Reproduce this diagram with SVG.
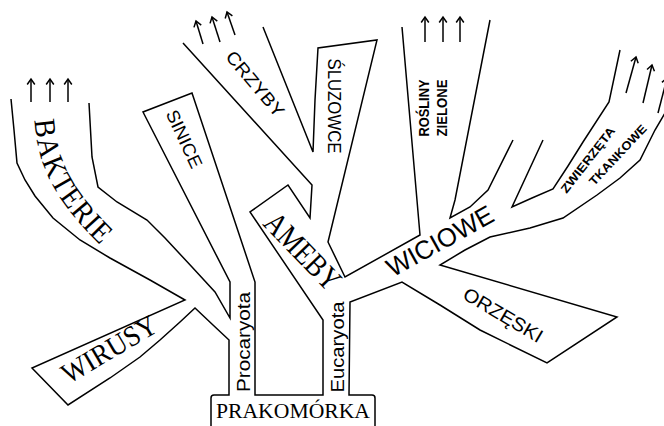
<svg xmlns="http://www.w3.org/2000/svg" width="664" height="426" viewBox="0 0 664 426">
<style>
.ol{fill:none;stroke:#000;stroke-width:1.5;stroke-linejoin:miter}
.ar{fill:none;stroke:#000;stroke-width:1.5;marker-end:url(#ah)}
.r{font-family:"Liberation Serif","Times New Roman",serif;fill:#000;text-anchor:middle;dominant-baseline:central}
.s{font-family:"Liberation Sans",Arial,sans-serif;fill:#000;text-anchor:middle;dominant-baseline:central}
.b{font-family:"Liberation Sans",Arial,sans-serif;font-weight:bold;fill:#000;text-anchor:middle;dominant-baseline:central}
</style>
<defs>
<marker id="ah" markerUnits="userSpaceOnUse" markerWidth="12" markerHeight="12" refX="0" refY="0" viewBox="-7 -6 8 12" orient="auto">
<path d="M-5.5,-3.8 L0,0 L-5.5,3.8" fill="none" stroke="#000" stroke-width="1.5"/>
</marker>
<path id="bakPath" d="M45,112 C47,160 61,192 113,242"/>
</defs>
<rect width="664" height="426" fill="#fff"/>
<g id="outline">
<path class="ol" d="M11,99 L14,130 L17,163 L25,180 L35,196 L53,218 L80,240 L110,258 L150,280 L185,300 L32,368 L68,405 L110,378 L140,357 L160,340 L180,322 L195,308 L213,325 L229,340 L229,395 L214,395 Q211,395 211,398 L211,426"/>
<path class="ol" d="M89,103 L92,157 L98,187 L117,202 L147,220 L165,238 L192,267 L215,292 L230,318 L230,282 L143,112 L192,93 L255,282 L255,395 L323,395 L323,320 L250,212 L288,185 L310,218 L312,185 L183,43"/>
<path class="ol" d="M263,27 L313,152 L315,100 L318,48 L377,40 L328,242 L345,277 L420,235 L402,27"/>
<path class="ol" d="M490,20 L455,200 L450,218 L470,207 L488,190 L513,140"/>
<path class="ol" d="M543,140 L512,207 L532,198 L553,189 L568,166 L583,142 L609,102 L620,50"/>
<path class="ol" d="M668,108 L655,130 L640,160 L620,178 L597,195 L563,218 L530,228 L490,237 L465,250 L440,265 L617,317 L547,363 L480,330 L440,305 L402,282 L350,302 L349,395 L372,395 Q375,395 375,398 L375,426"/>
</g>
<g id="arrows">
<line class="ar" x1="31" y1="102" x2="31" y2="79"/>
<line class="ar" x1="50" y1="102" x2="50" y2="79"/>
<line class="ar" x1="68" y1="102" x2="68" y2="79"/>
<line class="ar" x1="203" y1="44" x2="196" y2="21"/>
<line class="ar" x1="220" y1="42" x2="212" y2="17"/>
<line class="ar" x1="235" y1="35" x2="227" y2="12"/>
<line class="ar" x1="425" y1="42" x2="425" y2="17"/>
<line class="ar" x1="443" y1="42" x2="443" y2="17"/>
<line class="ar" x1="460" y1="42" x2="460" y2="17"/>
<line class="ar" x1="626" y1="93" x2="636" y2="57"/>
<line class="ar" x1="643" y1="103" x2="652" y2="65"/>
<line class="ar" x1="658" y1="113" x2="667" y2="78"/>
</g>
<g id="bakterie"><text class="r" font-size="30"><textPath href="#bakPath" startOffset="50%" textLength="138" lengthAdjust="spacingAndGlyphs">BAKTERIE</textPath></text></g>
<g id="wirusy"><text class="r" font-size="29" textLength="106" lengthAdjust="spacingAndGlyphs" transform="translate(109,349) rotate(-30.6)">WIRUSY</text></g>
<g id="sinice"><text class="s" font-size="18" textLength="62" lengthAdjust="spacingAndGlyphs" transform="translate(184,139) rotate(65)">SINICE</text></g>
<g id="crzyby"><text class="s" font-size="18" textLength="80" lengthAdjust="spacingAndGlyphs" transform="translate(255,84) rotate(50)">CRZYBY</text></g>
<g id="sluzowce"><text class="s" font-size="18" textLength="95" lengthAdjust="spacingAndGlyphs" transform="translate(334,106) rotate(90)">ŚLUZOWCE</text></g>
<g id="ameby"><text class="r" font-size="32" textLength="95" lengthAdjust="spacingAndGlyphs" transform="translate(303,251) rotate(46)">AMEBY</text></g>
<g id="wiciowe"><text class="s" font-size="26" textLength="118" lengthAdjust="spacingAndGlyphs" transform="translate(440,241) rotate(-29)">WICIOWE</text></g>
<g id="orzeski"><text class="s" font-size="19" textLength="89" lengthAdjust="spacingAndGlyphs" transform="translate(503,315) rotate(30.6)">ORZĘSKI</text></g>
<g id="rosliny"><text class="b" font-size="15" textLength="57" lengthAdjust="spacingAndGlyphs" transform="translate(423,108) rotate(-90)">ROŚLINY</text><text class="b" font-size="15" textLength="57" lengthAdjust="spacingAndGlyphs" transform="translate(441,108) rotate(-90)">ZIELONE</text></g>
<g id="zwierzeta"><text class="b" font-size="12" textLength="80" lengthAdjust="spacingAndGlyphs" transform="translate(588,160) rotate(-52)">ZWIERZĘTA</text><text class="b" font-size="12" textLength="78" lengthAdjust="spacingAndGlyphs" transform="translate(618,155) rotate(-47)">TKANKOWE</text></g>
<g id="procaryota"><text class="s" font-size="19" textLength="100" lengthAdjust="spacingAndGlyphs" transform="translate(243,342) rotate(-90)">Procaryota</text></g>
<g id="eucaryota"><text class="s" font-size="19" textLength="91" lengthAdjust="spacingAndGlyphs" transform="translate(337,347) rotate(-90)">Eucaryota</text></g>
<g id="prakomorka"><text class="r" font-size="22" textLength="154" lengthAdjust="spacingAndGlyphs" x="293" y="410">PRAKOMÓRKA</text></g>
</svg>
